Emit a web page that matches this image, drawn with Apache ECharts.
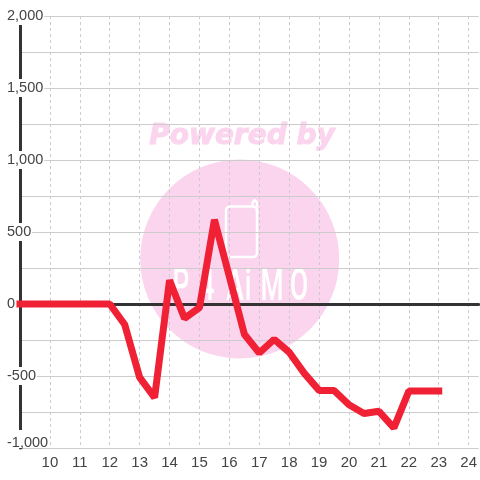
<!DOCTYPE html>
<html><head><meta charset="utf-8">
<style>html,body{margin:0;padding:0;background:#fff}#c{width:480px;height:480px}</style>
<script src="https://cdn.jsdelivr.net/npm/echarts@6/dist/echarts.min.js"></script>
</head><body><div id="c"></div>
<script>
const hours = [9,9.5,10,10.5,11,11.5,12,12.5,13,13.5,14,14.5,15,15.5,16,16.5,17,17.5,18,18.5,19,19.5,20,20.5,21,21.5,22,22.5,23];
const values = [0,0,0,0,0,0,0,-142,-510,-650,165,-100,-25,585,190,-210,-340,-245,-335,-480,-600,-600,-700,-760,-745,-860,-605,-605,-605];
const logoLetters = ['P','4','A','i','M','O'];
const logoLetterX = [181,207,235,248,272,299];
const chart = echarts.init(document.getElementById('c'), null, {renderer:'canvas'});
const FONT = '"Liberation Sans", Arial, sans-serif';
const PINK = '#fbd5ee';
const maxX = 9 + 460/30;
chart.setOption({
  animation:false,
  backgroundColor:'#fff',
  grid:{left:20,top:16,width:460,height:432,containLabel:false},
  xAxis:[{
    type:'value',position:'bottom',min:9,max:maxX,interval:1,
    axisLine:{show:false,onZero:false},axisTick:{show:false},
    axisLabel:{color:'#444',fontFamily:FONT,fontSize:15,margin:7,showMinLabel:false,showMaxLabel:false,
      formatter:v=>String(v)},
    splitLine:{show:true,lineStyle:{color:'#ccc',width:1,type:[3,3]},showMinLine:false,showMaxLine:false}
  },{
    type:'value',position:'top',min:9,max:maxX,interval:1,
    axisLine:{show:true,onZero:true,lineStyle:{color:'#333',width:3}},
    axisTick:{show:false},axisLabel:{show:false},splitLine:{show:false}
  }],
  yAxis:{
    type:'value',min:-1000,max:2000,interval:500,
    axisLine:{show:true,onZero:false,lineStyle:{color:'#333',width:3}},
    axisTick:{show:false},
    axisLabel:{color:'#444',fontFamily:FONT,fontSize:14.5,lineHeight:10,align:'left',margin:14,
      backgroundColor:'#fff',padding:[8,1,0,1],
      verticalAlignMinLabel:'bottom',
      formatter:v=>v.toLocaleString('en-US')},
    splitLine:{show:true,lineStyle:{color:'#ccc',width:1}},
    minorTick:{show:false,splitNumber:2},
    minorSplitLine:{show:true,lineStyle:{color:'#ccc',width:1}}
  },
  graphic:[
    {type:'circle',z:-10,silent:true,shape:{cx:239.7,cy:259,r:99.5},style:{fill:PINK}},
    {type:'text',z:-10,silent:true,x:242,y:137,style:{text:'Powered by',fill:PINK,stroke:PINK,lineWidth:1,font:'italic bold 28px "DejaVu Sans"',align:'center',verticalAlign:'middle'}},
    {type:'rect',z:-9,silent:true,shape:{x:226,y:206.5,width:31,height:50.5,r:4},style:{fill:'none',stroke:'#fff',lineWidth:2.5}},
    {type:'polyline',z:-9,silent:true,shape:{points:[[252.5,206.5],[252.5,202.5],[254.7,200],[257,202.5],[257,212]]},style:{fill:'none',stroke:'#fff',lineWidth:2.5,lineJoin:'round'}}
  ].concat(logoLetters.map((t,i)=>({
    type:'text',z:-9,silent:true,x:logoLetterX[i],y:289,scaleX:0.6,
    style:{text:t,fill:'#fff',font:'500 44px Roboto',align:'center',verticalAlign:'middle'}
  }))),
  series:[{
    type:'line',data:hours.map((h,i)=>[h,values[i]]),showSymbol:false,symbol:'none',clip:false,z:5,
    lineStyle:{color:'#f02035',width:7,cap:'square',join:'bevel'}
  }]
});
</script></body></html>
